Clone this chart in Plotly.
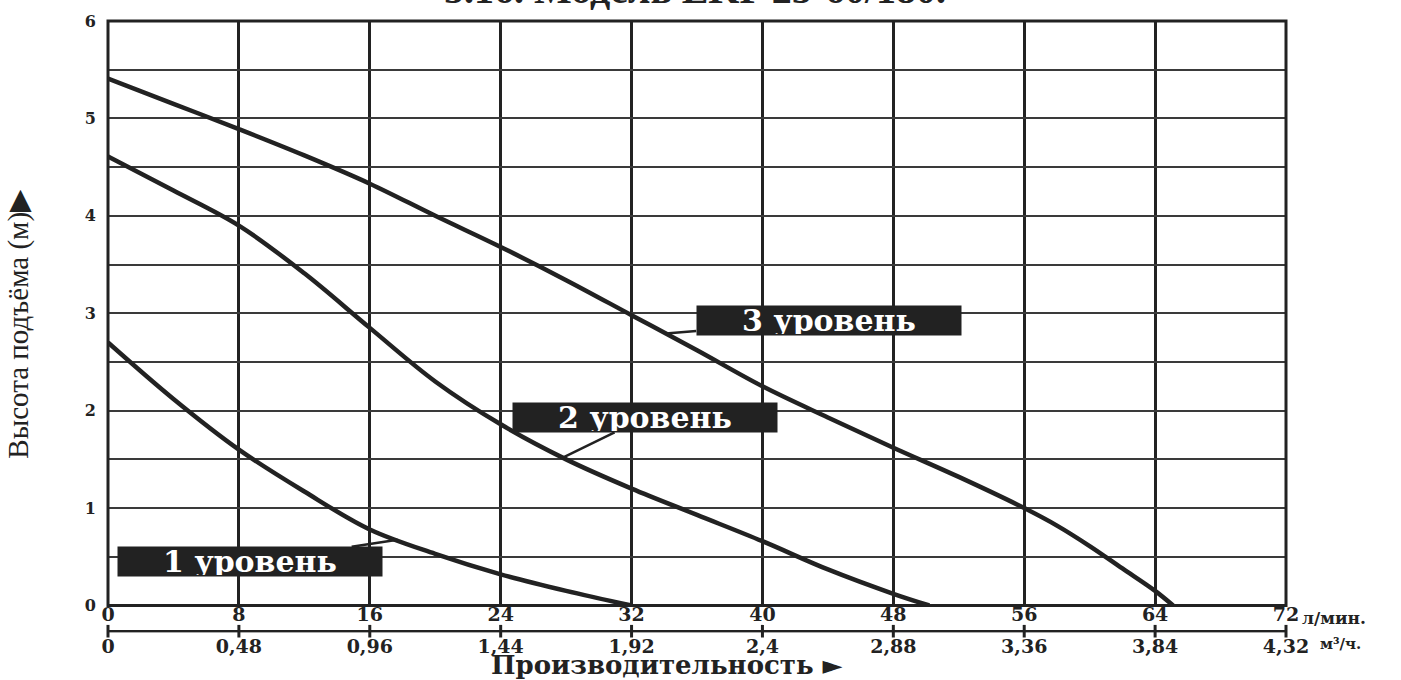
import numpy as np
import plotly.graph_objects as go

# ---------------- data ----------------
flow_lmin_ticks = [0, 8, 16, 24, 32, 40, 48, 56, 64, 72]
flow_m3h_ticks = [0, 0.48, 0.96, 1.44, 1.92, 2.4, 2.88, 3.36, 3.84, 4.32]
flow_m3h_labels = ["0", "0,48", "0,96", "1,44", "1,92", "2,4", "2,88", "3,36", "3,84", "4,32"]
head_ticks = [0, 1, 2, 3, 4, 5, 6]

# level 3 curve
x3 = [0, 4, 8, 12, 16, 20, 24, 28, 32, 36, 40, 44, 48, 52, 56, 58, 60, 62, 64, 65.1]
y3 = [5.41, 5.15, 4.89, 4.62, 4.33, 4.0, 3.68, 3.34, 2.98, 2.62, 2.25, 1.93, 1.62, 1.32, 1.0, 0.82, 0.61, 0.38, 0.15, 0.0]
# level 2 curve
x2 = [0, 4, 8, 12, 16, 20, 24, 28, 32, 36, 40, 44, 48, 50.2]
y2 = [4.61, 4.26, 3.9, 3.41, 2.85, 2.3, 1.86, 1.5, 1.2, 0.93, 0.66, 0.37, 0.12, 0.0]
# level 1 curve
x1 = [0, 4, 8, 12, 16, 20, 24, 28, 32]
y1 = [2.7, 2.12, 1.6, 1.17, 0.78, 0.53, 0.32, 0.15, 0.0]

levels = ["1 уровень", "2 уровень", "3 уровень"]
label_centers_x = [8.7, 32.85, 44.05]
label_centers_y = [0.45, 1.93, 2.93]
leader_x = [17.7, 27.8, 34.1]

title_text = "5.16. Модель EKP 25-60/180."
y_title = "Высота подъёма (м)▶"
x_title = "Производительность ►"

# ---------------- figure ----------------
INK = "#222222"
SERIF = "Liberation Serif, Times New Roman, serif"
WIDE = "DejaVu Serif, serif"

fig = go.Figure()
for xs, ys in [(x1, y1), (x2, y2), (x3, y3)]:
    fig.add_trace(go.Scatter(x=xs, y=ys, mode="lines",
                             line=dict(color=INK, width=4.5, shape="spline", smoothing=1.0),
                             hoverinfo="skip", showlegend=False))
# the m3/h scale: baseline with tick marks at each scale value
fig.add_trace(go.Scatter(x=flow_m3h_ticks, y=[0] * len(flow_m3h_ticks), xaxis="x2", yaxis="y2",
                         mode="lines+markers", line=dict(color=INK, width=2.5),
                         marker=dict(symbol="line-ns", size=9, color=INK, line=dict(width=3, color=INK)),
                         showlegend=False, hoverinfo="skip", cliponaxis=False))

H, W = 680, 1401
MT, MB = 14, 30
ML, MR = 108, 115
paper_h = H - MT - MB
paper_w = W - ML - MR


def py(pix):
    return (H - MB - pix) / paper_h


def px(pix):
    return (pix - ML) / paper_w


y_dom_bottom = py(605)
half = 1.5 / paper_h
tick_font = dict(family=WIDE, size=19, color=INK, weight="bold")

fig.update_layout(
    width=W, height=H,
    margin=dict(l=ML, r=MR, t=MT, b=MB),
    paper_bgcolor="white", plot_bgcolor="white",
    xaxis=dict(range=[0, 72], tickvals=flow_lmin_ticks, ticktext=[str(v) for v in flow_lmin_ticks],
               showgrid=True, gridcolor=INK, gridwidth=3,
               showline=False, ticks="", zeroline=False,
               anchor="free", position=py(600),
               tickfont=tick_font),
    yaxis=dict(range=[0, 6], domain=[y_dom_bottom, 1],
               tickvals=[v / 2 for v in range(13)],
               ticktext=[str(int(v / 2)) if v % 2 == 0 else "" for v in range(13)],
               showgrid=True, gridcolor="#3a3a3a", gridwidth=2,
               showline=False, ticks="", zeroline=False, ticklabelstandoff=11,
               tickfont=dict(family=WIDE, size=16, color=INK, weight="bold")),
    xaxis2=dict(range=[0, 4.32], anchor="y2", side="bottom",
                tickvals=flow_m3h_ticks, ticktext=flow_m3h_labels,
                showgrid=False, zeroline=False, showline=False, ticks="",
                ticklabelstandoff=0, tickfont=tick_font),
    yaxis2=dict(domain=[py(631) - half, py(631) + half], range=[-1, 1], visible=False),
    shapes=[dict(type="rect", xref="x domain", yref="y domain", x0=0, x1=1, y0=0, y1=1,
                 line=dict(color=INK, width=3), fillcolor="rgba(0,0,0,0)", layer="above")],
)

ann = []
curves = [(x1, y1), (x2, y2), (x3, y3)]
for i, name in enumerate(levels):
    cx, cy = curves[i]
    lx = leader_x[i]
    ly = float(np.interp(lx, cx, cy))
    ann.append(dict(x=lx, y=ly, xref="x", yref="y",
                    ax=label_centers_x[i], ay=label_centers_y[i], axref="x", ayref="y",
                    text=name, showarrow=True, arrowhead=0, arrowwidth=2.5, arrowcolor=INK,
                    standoff=0, startstandoff=0,
                    bgcolor=INK, width=262, height=27, borderpad=1,
                    font=dict(family=WIDE, size=30, color="white", weight="bold")))

# units
ann.append(dict(x=1, y=py(618), xref="paper", yref="paper", xanchor="left", yanchor="middle",
                xshift=14, text="л/мин.", showarrow=False,
                font=dict(family=WIDE, size=17, color=INK, weight="bold")))
ann.append(dict(x=1, y=py(644), xref="paper", yref="paper", xanchor="left", yanchor="middle",
                xshift=32, text="м³/ч.", showarrow=False,
                font=dict(family=WIDE, size=15, color=INK, weight="bold")))
# axis titles
ann.append(dict(x=px(667), y=py(665), xref="paper", yref="paper",
                xanchor="center", yanchor="middle", text=x_title, showarrow=False,
                font=dict(family=WIDE, size=26, color=INK, weight="bold")))
ann.append(dict(x=0, y=py(320), xref="paper", yref="paper", xanchor="center", yanchor="middle",
                xshift=-89, text=y_title, textangle=-90, showarrow=False,
                font=dict(family=SERIF, size=29, color=INK)))
# title (cut off at the top, as in the original)
ann.append(dict(x=px(695), y=1, xref="paper", yref="paper",
                xanchor="center", yanchor="bottom", yshift=7, text=title_text, showarrow=False,
                font=dict(family=SERIF, size=40, color=INK, weight="bold")))

fig.update_layout(annotations=ann)

fig.write_html("out.html", config={"displayModeBar": False},
               post_script="document.body.style.margin='0';")
